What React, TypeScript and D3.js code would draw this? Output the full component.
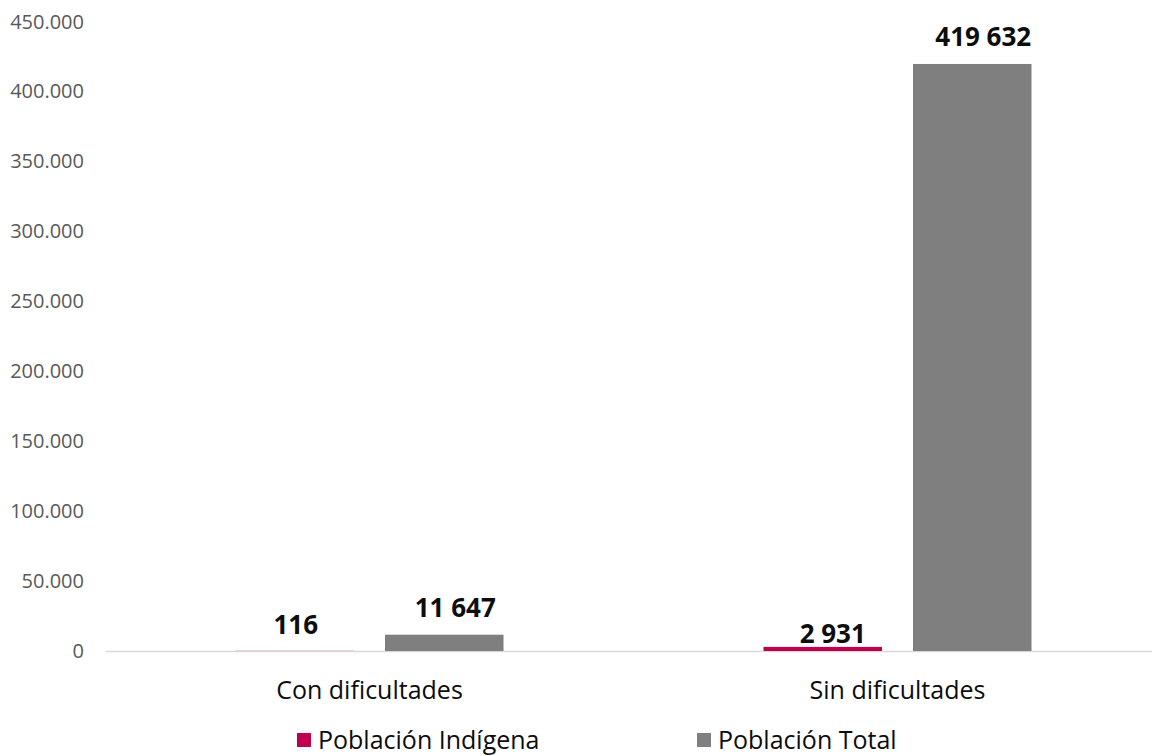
import React from "react";
import * as d3 from "d3";

const categories = ["Con dificultades", "Sin dificultades"];
const seriesNames = ["Población Indígena", "Población Total"];
const indigenaValues = [116, 2931];
const totalValues = [11647, 419632];
const yTicks = [0, 50000, 100000, 150000, 200000, 250000, 300000, 350000, 400000, 450000];
const seriesColors = ["#C0004F", "#7F7F7F"];

const W = 1152;
const H = 756;
const FONT = "'Open Sans', 'Noto Sans', sans-serif";

export default function App() {
  const y = d3.scaleLinear().domain([0, 450000]).range([651, 21.5]);
  const x0 = d3.scaleBand<string>().domain(categories).range([105.5, 1161.5]).paddingInner(0).paddingOuter(0);
  const x1 = d3.scaleBand<string>().domain(seriesNames).range([130, x0.bandwidth() - 130]).paddingInner(0.2074).paddingOuter(0);
  const fmtTick = (v: number) => d3.format(",")(v).replace(/,/g, ".");
  const fmtLabel = (v: number) => d3.format(",")(v).replace(/,/g, " ");
  const seriesValues = [indigenaValues, totalValues];
  const labelGap = [[17, 18], [4, 18]]; // [category][series] gap above bar
  const labelShift = [[1, 11], [10, 11]]; // [category][series] horizontal shift

  return (
    <svg width={W} height={H} style={{ position: "absolute", left: 0, top: 0, background: "#fff" }} fontFamily={FONT}>
      {yTicks.map((t) => (
        <text key={t} x={84} y={y(t)} dy="0.35em" textAnchor="end" fontSize={20} fill="#595959">
          {fmtTick(t)}
        </text>
      ))}
      <line x1={105.5} x2={W} y1={y(0) + 0.5} y2={y(0) + 0.5} stroke="#D9D9D9" strokeWidth={1.5} />
      {categories.map((c, ci) => (
        <g key={c} transform={`translate(${x0(c)},0)`}>
          {seriesNames.map((s, si) => {
            const v = seriesValues[si][ci];
            const bx = x1(s) as number;
            return (
              <g key={s}>
                <rect x={bx} y={y(v)} width={x1.bandwidth()} height={y(0) - y(v)} fill={seriesColors[si]} />
                <text
                  x={bx + x1.bandwidth() / 2 + labelShift[ci][si]}
                  y={y(v) - labelGap[ci][si]}
                  textAnchor="middle"
                  fontSize={26}
                  fontWeight="bold"
                  fill="#0D0D0D"
                >
                  {fmtLabel(v)}
                </text>
              </g>
            );
          })}
          <text x={x0.bandwidth() / 2} y={690} dy="0.35em" textAnchor="middle" fontSize={25} fill="#0D0D0D">
            {c}
          </text>
        </g>
      ))}
      {seriesNames.map((s, si) => {
        const lx = [297, 697][si];
        return (
          <g key={s}>
            <rect x={lx} y={733} width={14} height={14} fill={seriesColors[si]} />
            <text x={lx + 21} y={740} dy="0.35em" fontSize={25} fill="#0D0D0D">
              {s}
            </text>
          </g>
        );
      })}
    </svg>
  );
}
